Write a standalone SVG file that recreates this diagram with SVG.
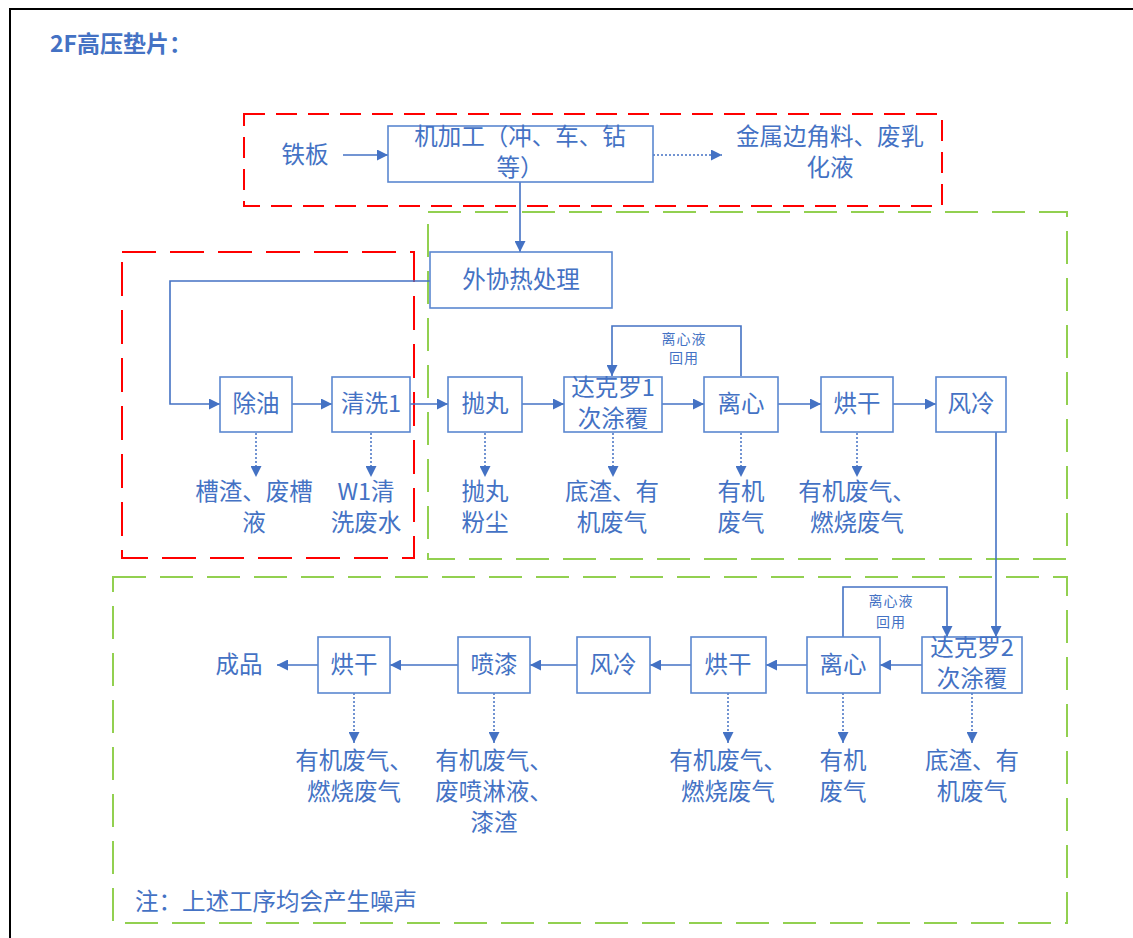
<svg xmlns="http://www.w3.org/2000/svg" width="1133" height="938" viewBox="0 0 1133 938">
<defs>
<style>
.t{font-family:"Noto Sans CJK SC","Liberation Sans",sans-serif;font-size:23.5px;fill:#4472C4;text-anchor:middle}
.s{font-family:"Noto Sans CJK SC","Liberation Sans",sans-serif;font-size:14px;fill:#4472C4;text-anchor:middle;letter-spacing:1px}
.n{fill:#fff;stroke:#5B87D0;stroke-width:1.6}
.c{fill:none;stroke:#4472C4;stroke-width:1.6}
.d{fill:none;stroke:#4472C4;stroke-width:1.5;stroke-dasharray:2 2}
.red1{fill:none;stroke:#FF0000;stroke-width:2;stroke-dasharray:21 11}
.red2{fill:none;stroke:#FF0000;stroke-width:2;stroke-dasharray:34 14}
.grn{fill:none;stroke:#92D050;stroke-width:2;stroke-dasharray:33 14}
</style>
<marker id="a" viewBox="0 0 11 11" refX="11" refY="5.5" markerWidth="11" markerHeight="11" markerUnits="userSpaceOnUse" orient="auto">
<path d="M0,0L11,5.5L0,11z" fill="#4472C4"/>
</marker>
</defs>
<rect x="0" y="0" width="1133" height="938" fill="#fff"/>
<path d="M10,938V9H1133" fill="none" stroke="#000" stroke-width="2"/>
<text x="50" y="52" style="font-family:'Noto Sans CJK SC','Liberation Sans',sans-serif;font-size:23px;font-weight:bold;fill:#4472C4">2F高压垫片：</text>

<g id="zones">
<rect class="red1" x="244" y="114" width="698" height="92"/>
<rect class="red2" x="122" y="252" width="292" height="306"/>
<rect class="grn" x="428" y="212" width="639" height="347"/>
<rect class="grn" x="113" y="577" width="954" height="346"/>
</g>

<g id="connectors">
<line class="c" x1="343" y1="155" x2="388" y2="155" marker-end="url(#a)"/>
<line class="d" x1="653" y1="155" x2="722" y2="155" marker-end="url(#a)"/>
<line class="c" x1="520" y1="182" x2="520" y2="252" marker-end="url(#a)"/>
<polyline class="c" points="430,281 170,281 170,404 220,404" marker-end="url(#a)"/>
<line class="c" x1="292" y1="404" x2="332" y2="404" marker-end="url(#a)"/>
<line class="c" x1="410" y1="404" x2="448" y2="404" marker-end="url(#a)"/>
<line class="c" x1="522" y1="404" x2="564" y2="404" marker-end="url(#a)"/>
<line class="c" x1="662" y1="404" x2="704" y2="404" marker-end="url(#a)"/>
<line class="c" x1="778" y1="404" x2="821" y2="404" marker-end="url(#a)"/>
<line class="c" x1="893" y1="404" x2="936" y2="404" marker-end="url(#a)"/>
<polyline class="c" points="741,376 741,326 612,326 612,376" marker-end="url(#a)"/>
<line class="c" x1="996" y1="432" x2="996" y2="637" marker-end="url(#a)"/>
<polyline class="c" points="843,637 843,587 947,587 947,637" marker-end="url(#a)"/>
<line class="c" x1="922" y1="665" x2="880" y2="665" marker-end="url(#a)"/>
<line class="c" x1="807" y1="665" x2="766" y2="665" marker-end="url(#a)"/>
<line class="c" x1="691" y1="665" x2="650" y2="665" marker-end="url(#a)"/>
<line class="c" x1="577" y1="665" x2="530" y2="665" marker-end="url(#a)"/>
<line class="c" x1="458" y1="665" x2="390" y2="665" marker-end="url(#a)"/>
<line class="c" x1="318" y1="665" x2="277" y2="665" marker-end="url(#a)"/>
<line class="d" x1="256" y1="433" x2="256" y2="477" marker-end="url(#a)"/>
<line class="d" x1="371" y1="433" x2="371" y2="477" marker-end="url(#a)"/>
<line class="d" x1="485" y1="433" x2="485" y2="477" marker-end="url(#a)"/>
<line class="d" x1="613" y1="433" x2="613" y2="477" marker-end="url(#a)"/>
<line class="d" x1="741" y1="433" x2="741" y2="477" marker-end="url(#a)"/>
<line class="d" x1="857" y1="433" x2="857" y2="477" marker-end="url(#a)"/>
<line class="d" x1="354" y1="693" x2="354" y2="743" marker-end="url(#a)"/>
<line class="d" x1="494" y1="693" x2="494" y2="743" marker-end="url(#a)"/>
<line class="d" x1="728" y1="693" x2="728" y2="743" marker-end="url(#a)"/>
<line class="d" x1="843" y1="693" x2="843" y2="743" marker-end="url(#a)"/>
<line class="d" x1="972" y1="693" x2="972" y2="743" marker-end="url(#a)"/>
<text class="s" x="684" y="344">离心液</text>
<text class="s" x="684" y="363">回用</text>
<text class="s" x="891" y="606">离心液</text>
<text class="s" x="891" y="627">回用</text>
</g>

<g id="n-tieban"><text class="t" x="305" y="163">铁板</text></g>
<g id="n-jijiagong"><rect class="n" x="388" y="126" width="265" height="56"/><text class="t" x="520" y="145">机加工（冲、车、钻</text><text class="t" x="520" y="176">等）</text></g>
<g id="n-feiliao"><text class="t" x="830" y="145">金属边角料、废乳</text><text class="t" x="830" y="176">化液</text></g>
<g id="n-waixie"><rect class="n" x="430" y="252" width="182" height="56"/><text class="t" x="521" y="288">外协热处理</text></g>

<g id="n-chuyou"><rect class="n" x="220" y="377" width="72" height="55"/><text class="t" x="256" y="412">除油</text></g>
<g id="n-qingxi"><rect class="n" x="332" y="377" width="78" height="55"/><text class="t" x="371" y="412">清洗1</text></g>
<g id="n-paowan"><rect class="n" x="448" y="377" width="74" height="55"/><text class="t" x="485" y="412">抛丸</text></g>
<g id="n-dakeluo1"><rect class="n" x="564" y="377" width="98" height="55"/><text class="t" x="613" y="396">达克罗1</text><text class="t" x="613" y="427">次涂覆</text></g>
<g id="n-lixin1"><rect class="n" x="704" y="377" width="74" height="55"/><text class="t" x="741" y="412">离心</text></g>
<g id="n-honggan1"><rect class="n" x="821" y="377" width="72" height="55"/><text class="t" x="857" y="412">烘干</text></g>
<g id="n-fengleng1"><rect class="n" x="936" y="377" width="70" height="55"/><text class="t" x="971" y="412">风冷</text></g>

<g id="o-chuyou"><text class="t" x="254" y="500">槽渣、废槽</text><text class="t" x="254" y="531">液</text></g>
<g id="o-qingxi"><text class="t" x="366" y="500">W1清</text><text class="t" x="366" y="531">洗废水</text></g>
<g id="o-paowan"><text class="t" x="485" y="500">抛丸</text><text class="t" x="485" y="531">粉尘</text></g>
<g id="o-dakeluo1"><text class="t" x="612" y="500">底渣、有</text><text class="t" x="612" y="531">机废气</text></g>
<g id="o-lixin1"><text class="t" x="741" y="500">有机</text><text class="t" x="741" y="531">废气</text></g>
<g id="o-honggan1"><text class="t" x="857" y="500">有机废气、</text><text class="t" x="857" y="531">燃烧废气</text></g>

<g id="n-dakeluo2"><rect class="n" x="922" y="637" width="100" height="56"/><text class="t" x="972" y="656">达克罗2</text><text class="t" x="972" y="687">次涂覆</text></g>
<g id="n-lixin2"><rect class="n" x="807" y="637" width="73" height="56"/><text class="t" x="843" y="673">离心</text></g>
<g id="n-honggan2"><rect class="n" x="691" y="637" width="75" height="56"/><text class="t" x="728" y="673">烘干</text></g>
<g id="n-fengleng2"><rect class="n" x="577" y="637" width="73" height="56"/><text class="t" x="613" y="673">风冷</text></g>
<g id="n-penqi"><rect class="n" x="458" y="637" width="72" height="56"/><text class="t" x="494" y="673">喷漆</text></g>
<g id="n-honggan3"><rect class="n" x="318" y="637" width="72" height="56"/><text class="t" x="354" y="673">烘干</text></g>
<g id="n-chengpin"><text class="t" x="239" y="673">成品</text></g>

<g id="o-dakeluo2"><text class="t" x="972" y="769">底渣、有</text><text class="t" x="972" y="800">机废气</text></g>
<g id="o-lixin2"><text class="t" x="843" y="769">有机</text><text class="t" x="843" y="800">废气</text></g>
<g id="o-honggan2"><text class="t" x="728" y="769">有机废气、</text><text class="t" x="728" y="800">燃烧废气</text></g>
<g id="o-penqi"><text class="t" x="494" y="769">有机废气、</text><text class="t" x="494" y="800">废喷淋液、</text><text class="t" x="494" y="831">漆渣</text></g>
<g id="o-honggan3"><text class="t" x="354" y="769">有机废气、</text><text class="t" x="354" y="800">燃烧废气</text></g>

<g id="note"><text x="135" y="910" style="font-family:'Noto Sans CJK SC','Liberation Sans',sans-serif;font-size:23.5px;fill:#4472C4">注：上述工序均会产生噪声</text></g>
</svg>
